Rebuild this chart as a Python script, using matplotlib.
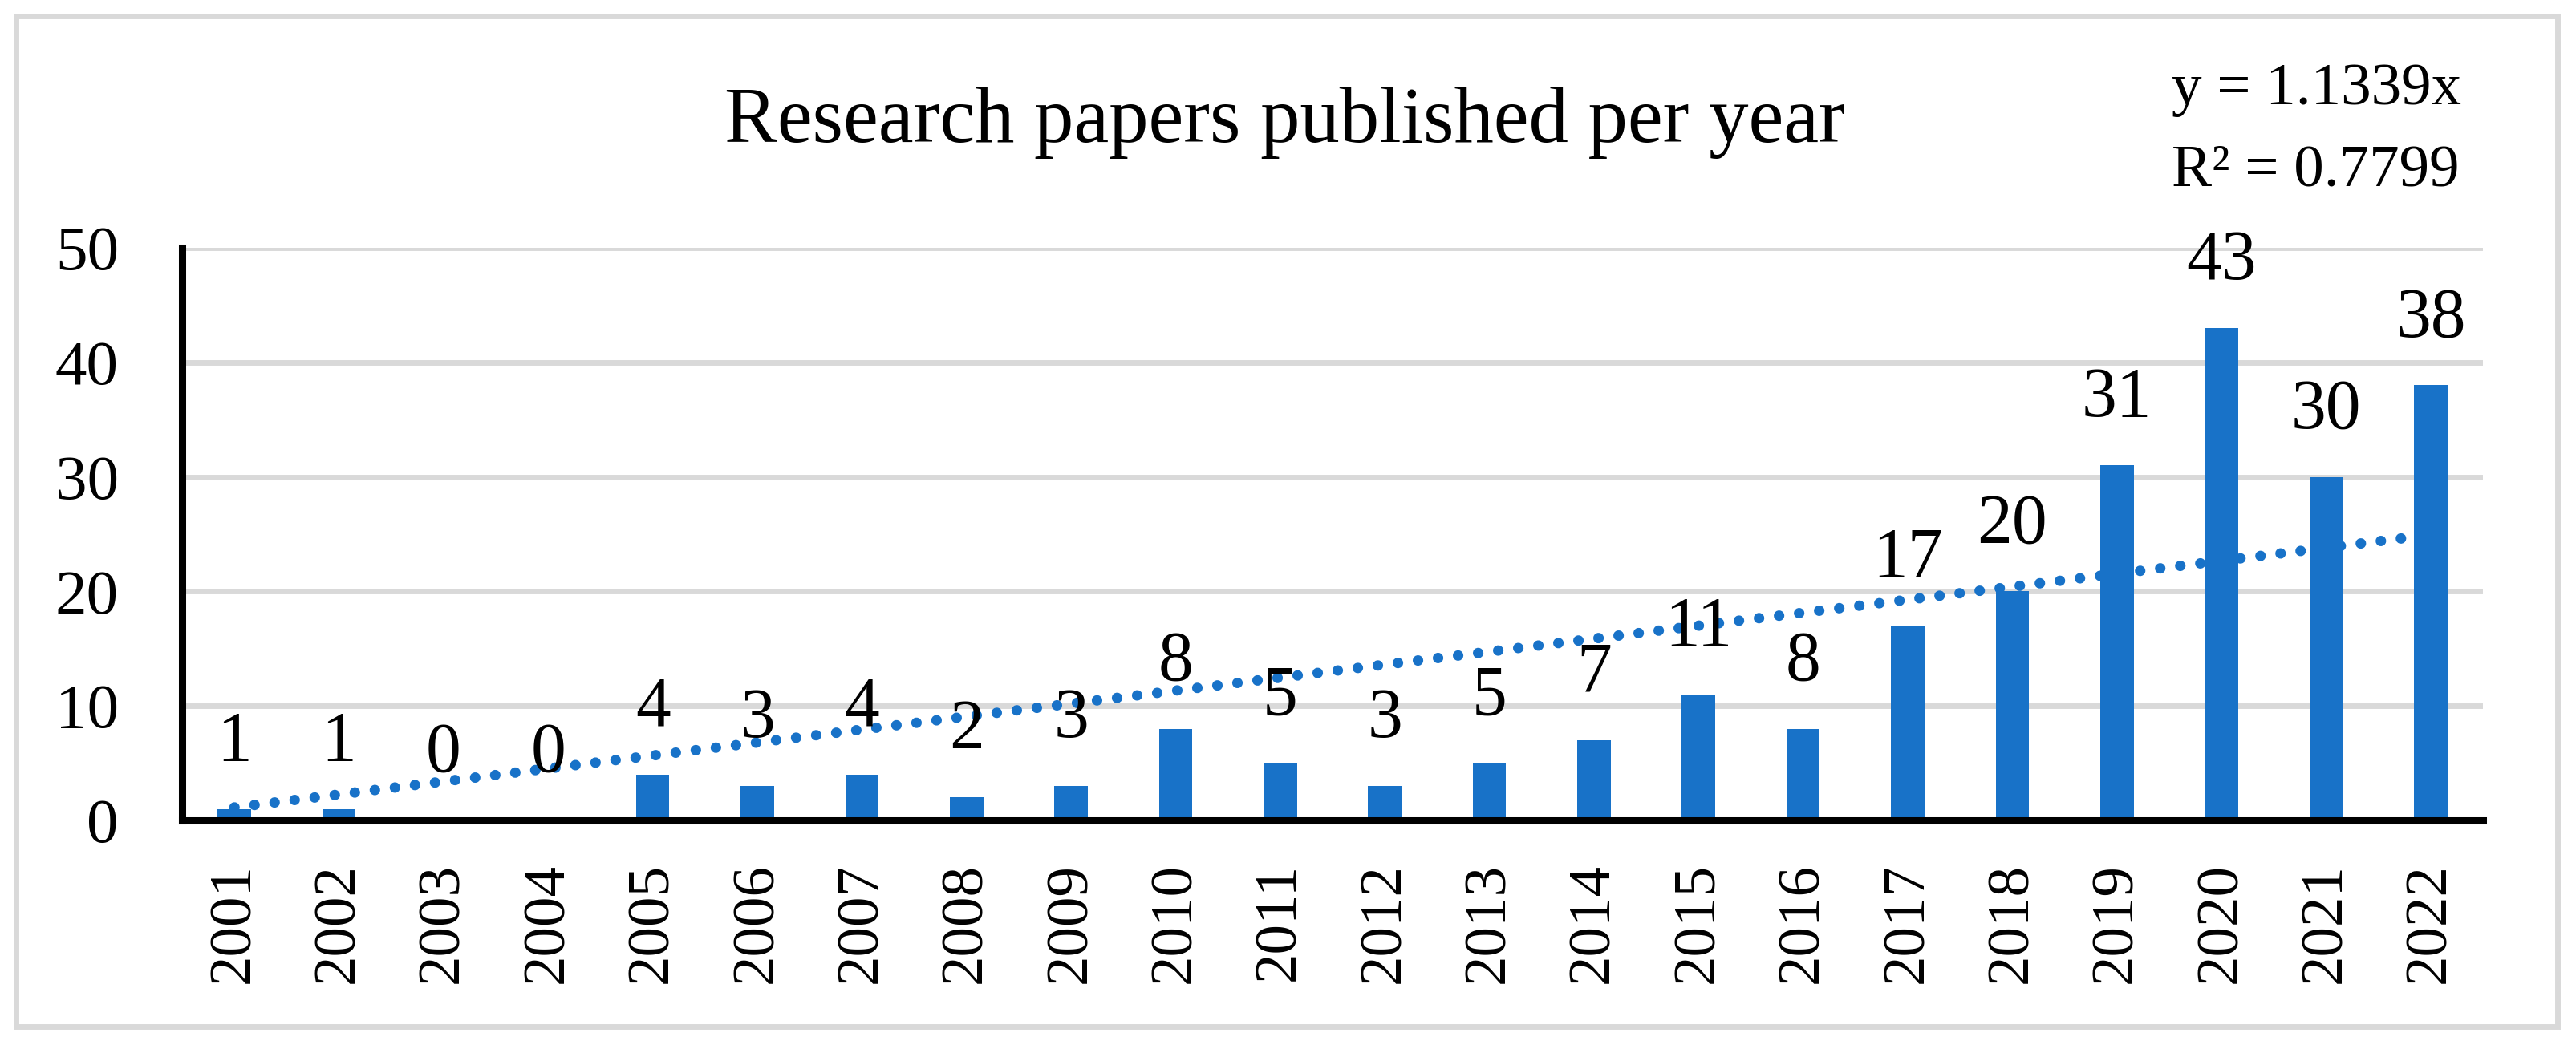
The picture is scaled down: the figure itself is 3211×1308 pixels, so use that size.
import numpy as np
import matplotlib
matplotlib.use("Agg")
import matplotlib.pyplot as plt
from matplotlib.patches import Rectangle

# data
years = ["2001", "2002", "2003", "2004", "2005", "2006", "2007", "2008", "2009", "2010", "2011",
         "2012", "2013", "2014", "2015", "2016", "2017", "2018", "2019", "2020", "2021", "2022"]
papers = [1, 1, 0, 0, 4, 3, 4, 2, 3, 8, 5, 3, 5, 7, 11, 8, 17, 20, 31, 43, 30, 38]
title = "Research papers published per year"
eq_text = "y = 1.1339x"
r2_text = "R\u00b2 = 0.7799"

bar_color = "#1872C8"
grid_color = "#D9D9D9"

plt.rcParams["font.family"] = ["Liberation Serif", "DejaVu Serif"]

W, H = 3211, 1308
fig = plt.figure(figsize=(W / 100, H / 100), dpi=100)

# outer gray frame
fig.patches.append(Rectangle((20 / W, 1 - 1280 / H), 3168 / W, 1260 / H, transform=fig.transFigure,
                             fill=False, edgecolor=grid_color, linewidth=5, zorder=0))

ax = fig.add_axes([227 / W, 1 - 1023 / H, (3095 - 227) / W, (1023 - 309) / H])
x = np.arange(len(years))
ax.bar(x, papers, width=0.32, color=bar_color, zorder=3)

# linear trend through origin (Excel style)
xi = x + 1
slope = np.sum(xi * np.array(papers)) / np.sum(xi ** 2)
ax.plot(x, slope * xi, color=bar_color, linewidth=9.4, linestyle=(0, (0.01, 1.92)),
        dash_capstyle="round", zorder=4)

for xx, v in zip(x, papers):
    ax.annotate(str(v), (xx, v), xytext=(0, 44), textcoords="offset points",
                ha="center", va="baseline", fontsize=63, zorder=5)

ax.set_xlim(-0.5, len(years) - 0.5)
ax.set_ylim(0, 50)
ax.set_yticks(range(0, 51, 10))
ax.set_xticks(x)
ax.set_xticklabels(years, rotation=90)
ax.tick_params(axis="y", length=0, pad=57, labelsize=57)
ax.tick_params(axis="x", length=0, pad=38, labelsize=54)
ax.yaxis.grid(True, color=grid_color, linewidth=5, zorder=0)
ax.set_axisbelow(True)
for s in ["top", "right"]:
    ax.spines[s].set_visible(False)
for s in ["left", "bottom"]:
    ax.spines[s].set_linewidth(6.5)
    ax.spines[s].set_color("black")
    ax.spines[s].set_zorder(6)

fig.text(1601 / W, 1 - 177 / H, title, ha="center", va="baseline", fontsize=71)
fig.text(2707 / W, 1 - 130 / H, eq_text, ha="left", va="baseline", fontsize=54)
fig.text(2707 / W, 1 - 232 / H, r2_text, ha="left", va="baseline", fontsize=54)

fig.savefig("out.png", dpi=100)
